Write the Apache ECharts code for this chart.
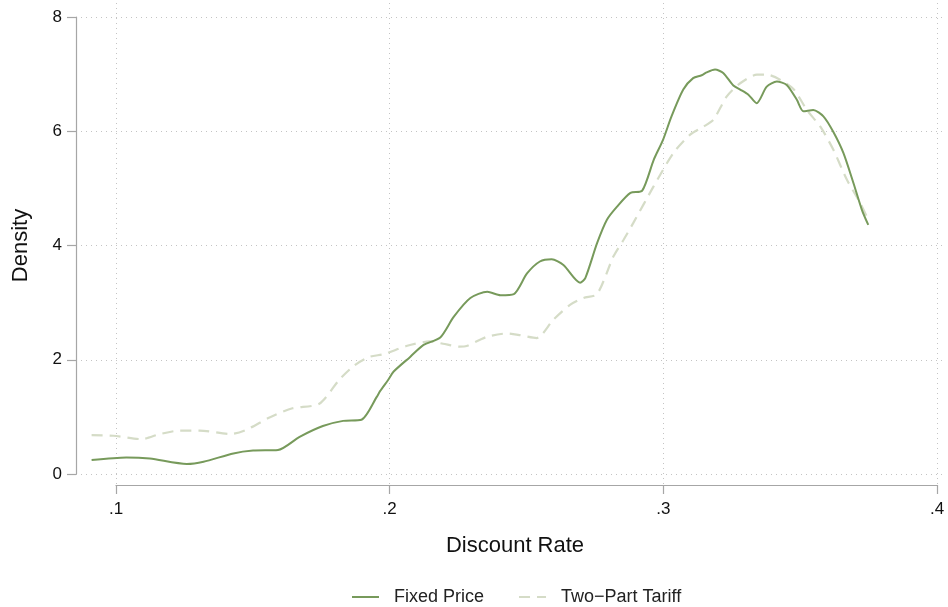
<!DOCTYPE html>
<html>
<head>
<meta charset="UTF-8">
<title>Density of discount rate</title>
<script src="https://cdn.jsdelivr.net/npm/echarts@6/dist/echarts.min.js"></script>
<style>
  body { margin: 0; background: #fff; }
  #root { width: 948px; height: 607px; }
</style>
</head>
<body>
<div id="root"></div>
<script>
// kernel density estimates: [discount rate, density]
var fixedPrice = [
  [0.0912, 0.245], [0.1039, 0.29], [0.1125, 0.27], [0.1260, 0.175], [0.1321, 0.215],
  [0.1430, 0.36], [0.1502, 0.41], [0.1593, 0.42], [0.1672, 0.65], [0.1757, 0.84],
  [0.1831, 0.93], [0.1898, 0.95], [0.1954, 1.35], [0.1966, 1.45], [0.1996, 1.65],
  [0.2015, 1.79], [0.2076, 2.05], [0.2125, 2.26], [0.2186, 2.39], [0.2235, 2.75],
  [0.2296, 3.08], [0.2358, 3.19], [0.2406, 3.13], [0.2455, 3.15], [0.2503, 3.51],
  [0.2550, 3.72], [0.2593, 3.76], [0.2636, 3.66], [0.2697, 3.35], [0.2716, 3.43],
  [0.2759, 4.04], [0.2795, 4.45], [0.2832, 4.68], [0.2881, 4.92], [0.2924, 4.96],
  [0.2966, 5.50], [0.3000, 5.85], [0.3031, 6.26], [0.3074, 6.73], [0.3110, 6.93],
  [0.3141, 6.98], [0.3159, 7.03], [0.3190, 7.08], [0.3220, 7.02], [0.3257, 6.80],
  [0.3282, 6.73], [0.3312, 6.64], [0.3342, 6.49], [0.3379, 6.78], [0.3416, 6.87],
  [0.3452, 6.81], [0.3489, 6.55], [0.3513, 6.35], [0.3549, 6.37], [0.3586, 6.26],
  [0.3622, 5.99], [0.3659, 5.62], [0.3696, 5.09], [0.3727, 4.62], [0.3750, 4.36]
];
var twoPartTariff = [
  [0.0912, 0.68], [0.0991, 0.67], [0.1095, 0.61], [0.1162, 0.70], [0.1234, 0.76],
  [0.1307, 0.76], [0.1421, 0.70], [0.1476, 0.77], [0.1562, 0.99], [0.1646, 1.15],
  [0.1744, 1.23], [0.1817, 1.65], [0.1872, 1.90], [0.1927, 2.05], [0.1982, 2.10],
  [0.2062, 2.24], [0.2147, 2.32], [0.2196, 2.28], [0.2257, 2.23], [0.2282, 2.24],
  [0.2356, 2.40], [0.2429, 2.46], [0.2478, 2.43], [0.2538, 2.38], [0.2599, 2.70],
  [0.2660, 2.96], [0.2709, 3.08], [0.2759, 3.15], [0.2819, 3.81], [0.2856, 4.10],
  [0.2892, 4.40], [0.2965, 5.03], [0.3038, 5.62], [0.3099, 5.94], [0.3148, 6.08],
  [0.3184, 6.20], [0.3233, 6.61], [0.3282, 6.84], [0.3343, 6.99], [0.3380, 6.99],
  [0.3429, 6.90], [0.3478, 6.73], [0.3526, 6.37], [0.3575, 6.08], [0.3623, 5.67],
  [0.3672, 5.15], [0.3721, 4.74], [0.3750, 4.45]
];
var seriesNames = ['Fixed Price', 'Two\u2212Part Tariff'];

var font = '"Liberation Sans", Arial, sans-serif';
var axisGrey = '#a6a6a6';
var gridDots = { color: '#c4c4c4', width: 1, type: [1, 4] };

var chart = echarts.init(document.getElementById('root'));

chart.setOption({
  animation: false,
  textStyle: { fontFamily: font },
  grid: [
    // plot region (holds the data and the y axis)
    { left: 76, right: 2, top: 17, bottom: 133 },
    // x axis drawn only between .1 and .4, like stata does
    { left: 116, right: 11, top: 3, bottom: 122 }
  ],
  legend: {
    top: 583,
    left: 346,
    itemWidth: 27,
    itemHeight: 12,
    itemGap: 34,
    // hide the marker dot, keep the line sample
    itemStyle: { opacity: 0 },
    textStyle: { fontFamily: font, fontSize: 18, color: '#222', padding: [0, 0, 0, 10] },
    data: seriesNames
  },
  xAxis: [
    {
      gridIndex: 0,
      type: 'value',
      min: 0.0855,
      max: 0.4034,
      name: 'Discount Rate',
      nameLocation: 'middle',
      nameGap: 61,
      nameTextStyle: { fontSize: 22, color: '#111', padding: [0, 0, 0, 8] },
      axisLine: { show: false },
      axisTick: { show: false },
      axisLabel: { show: false },
      splitLine: { show: false }
    },
    {
      gridIndex: 1,
      type: 'value',
      min: 0.1,
      max: 0.4,
      interval: 0.1,
      offset: 4,
      axisLine: { lineStyle: { color: axisGrey, width: 1.2 } },
      axisTick: { length: 9, lineStyle: { color: axisGrey, width: 1.2 } },
      axisLabel: {
        margin: 12, fontSize: 17, color: '#111',
        formatter: function (v) { return String(Math.round(v * 10) / 10).replace(/^0/, ''); }
      },
      splitLine: { show: true, lineStyle: gridDots }
    }
  ],
  yAxis: [
    {
      gridIndex: 0,
      type: 'value',
      min: 0,
      max: 8,
      interval: 2,
      name: 'Density',
      nameLocation: 'middle',
      nameGap: 44,
      nameTextStyle: { fontSize: 22, color: '#111' },
      axisLine: { show: true, lineStyle: { color: axisGrey, width: 1.2 } },
      axisTick: { show: true, length: 9, lineStyle: { color: axisGrey, width: 1.2 } },
      axisLabel: { margin: 14, fontSize: 17, color: '#111' },
      splitLine: { show: true, lineStyle: gridDots }
    },
    {
      gridIndex: 1,
      type: 'value',
      show: false,
      min: 0,
      max: 1
    }
  ],
  series: [
    {
      name: seriesNames[0],
      type: 'line',
      xAxisIndex: 0,
      yAxisIndex: 0,
      data: fixedPrice,
      symbol: 'none',
      smooth: 0.25,
      z: 3,
      lineStyle: { color: '#779a5b', width: 2 },
      itemStyle: { color: '#779a5b' }
    },
    {
      name: seriesNames[1],
      type: 'line',
      xAxisIndex: 0,
      yAxisIndex: 0,
      data: twoPartTariff,
      symbol: 'none',
      smooth: 0.25,
      z: 2,
      lineStyle: { color: '#d5dcc7', width: 2.2, type: [11, 7] },
      itemStyle: { color: '#d5dcc7' }
    }
  ]
});
</script>
</body>
</html>
